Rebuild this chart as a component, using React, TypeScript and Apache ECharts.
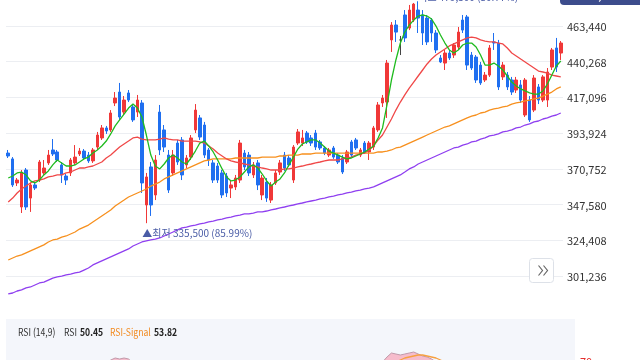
import React, { useEffect, useRef } from 'react';
import * as echarts from 'echarts';

// [open, close, low, high]
const candles: number[][] = [
  [381000, 379100, 377800, 383000], [377200, 360300, 359000, 378400], [361600, 363500, 359600, 364800],
  [346000, 368100, 342100, 370000], [370000, 346000, 344100, 371300], [351800, 360300, 342800, 361600],
  [360300, 358300, 357000, 361600], [363500, 375200, 362200, 376500], [368100, 371300, 366800, 376500],
  [374600, 379700, 373300, 383000], [383000, 380400, 379100, 390100], [381700, 376500, 375200, 383000],
  [373300, 366800, 361600, 375200], [366100, 363500, 360300, 367400], [368100, 376500, 366100, 377800],
  [374600, 378400, 373300, 386200], [380400, 382300, 379100, 384300], [382300, 377800, 376500, 383600],
  [379700, 375900, 374600, 381700], [375900, 383000, 374600, 384300], [384900, 392700, 383000, 394700],
  [390800, 397300, 389500, 399200], [397300, 395300, 393400, 398600], [396000, 407000, 394700, 408900],
  [413500, 416700, 411500, 420600], [420600, 404400, 402500, 426500], [407600, 415400, 405700, 418000],
  [420000, 415400, 414100, 421900], [410900, 402500, 401200, 412800], [407600, 415400, 404400, 418700],
  [413500, 361600, 355100, 415400], [347300, 365500, 335500, 368100], [372000, 347300, 340200, 375200],
  [353800, 376500, 350500, 379700], [407600, 383000, 379700, 412200], [396000, 384900, 381700, 399200],
  [379700, 357000, 355100, 383000], [368100, 379700, 366100, 383000], [387500, 375200, 373300, 389500],
  [389500, 366800, 363500, 391400], [373300, 377800, 371300, 379700], [378400, 390800, 376500, 392700],
  [396000, 408900, 394000, 412800], [403800, 391400, 389500, 405700], [399200, 379700, 377800, 401200],
  [383000, 376500, 372600, 384300], [374600, 363500, 361600, 376500], [372600, 363500, 361600, 374600],
  [368100, 353800, 351800, 370000], [366100, 355100, 352500, 368100], [358300, 360300, 351800, 363500],
  [359000, 364800, 357000, 366800], [363500, 387500, 361600, 389500], [381000, 372000, 370000, 383000],
  [379700, 368100, 366100, 381700], [366800, 373300, 364800, 375200], [374600, 360300, 357000, 376500],
  [353800, 364800, 350500, 366800], [362200, 351800, 349300, 364800], [350500, 360300, 348600, 362200],
  [361600, 368100, 360300, 370000], [368700, 374600, 366800, 376500], [379700, 371300, 369400, 381700],
  [377800, 373300, 372000, 379700], [363500, 384900, 361600, 386200], [387500, 394700, 386200, 396600],
  [387500, 390800, 385600, 396000], [394000, 388200, 386900, 395300], [390800, 387500, 385600, 392700],
  [394000, 384900, 383000, 396000], [388200, 384300, 383000, 389500], [384300, 381000, 379700, 385600],
  [379700, 383000, 378400, 384300], [384300, 378400, 377200, 385600], [379700, 375200, 373900, 381000],
  [377800, 368700, 367400, 379700], [375200, 381700, 373900, 383000], [388200, 379700, 378400, 389500],
  [389500, 384300, 383000, 390800], [379700, 383000, 378400, 384300], [387500, 381700, 380400, 388800],
  [381700, 387500, 376500, 388800], [384900, 397300, 383000, 398600], [396000, 412200, 394700, 414100],
  [413500, 416700, 410900, 418700], [414100, 439400, 403800, 441400], [454400, 464100, 446600, 466000],
  [464100, 459500, 453100, 467300], [454400, 454400, 444600, 457000], [470600, 455700, 453100, 473800],
  [462100, 473800, 460800, 477100], [467300, 477700, 466000, 478400], [473800, 468600, 458900, 479500],
  [470600, 458900, 451100, 473800], [468600, 453100, 451100, 470600], [467300, 458900, 453100, 468600],
  [458900, 447900, 445900, 460800], [442700, 440100, 439400, 444600], [439400, 445900, 434900, 447900],
  [445900, 442700, 441400, 447900], [444600, 451100, 442700, 452400], [449800, 459500, 447900, 462800],
  [467300, 460800, 458900, 470600], [469300, 438100, 434900, 470600], [444600, 436200, 434900, 446600],
  [443300, 428400, 426500, 444600], [438100, 426500, 425200, 440100], [428400, 431600, 427100, 433600],
  [431600, 449200, 430400, 451100], [453100, 452400, 447900, 458900], [452400, 423900, 421900, 454400],
  [430400, 438100, 428400, 440100], [431600, 423900, 421900, 433600], [428400, 420600, 418700, 430400],
  [421900, 428400, 420000, 430400], [425200, 415400, 413500, 428400], [405700, 428400, 404400, 429700],
  [415400, 402500, 401200, 418000], [408900, 429700, 407600, 431600], [423900, 415400, 412800, 425800],
  [415400, 430400, 414100, 431600], [415400, 433600, 410900, 436200], [436800, 447900, 434900, 449200],
  [449200, 436800, 433600, 455700], [445900, 452400, 441400, 453700],
];

const ma5 = [
  364800, 366100, 368100, 368700, 366800, 362900, 361600, 363500, 366800, 369400,
  373300, 376500, 374600, 372600, 372600, 373300, 375200, 377200, 378400, 381000,
  383000, 385600, 388800, 393400, 398600, 402500, 406300, 410200, 412800, 410200,
  404400, 392700, 379700, 372600, 370700, 373900, 377800, 379700, 377800, 375200,
  373900, 377800, 382300, 387500, 388800, 385600, 381700, 376500, 370700, 365500,
  362900, 363500, 365500, 368700, 372000, 373300, 371300, 367400, 362900, 359600,
  362200, 364200, 368100, 373300, 378400, 383600, 386900, 388200, 389500, 389500,
  387500, 384900, 382300, 381000, 379700, 378400, 377200, 377800, 379100, 380400,
  381700, 383600, 385600, 390800, 397300, 412200, 428400, 441400, 452400, 459500,
  464100, 467300, 469900, 470600, 469900, 468000, 463400, 457600, 452400, 447900,
  445900, 447900, 451100, 452400, 452400, 449800, 444600, 438100, 438100, 439400,
  437500, 434900, 431000, 427100, 424500, 422600, 421300, 420000, 419300, 419300,
  421300, 425800, 431600, 437500, 440700,
];

const ma20 = [
  349300, 351800, 355100, 357700, 359600, 361600, 362900, 363500, 364200, 365500,
  366100, 366800, 366800, 368100, 368700, 370000, 371300, 371300, 372000, 372600,
  373900, 375200, 377800, 379700, 382300, 384900, 386900, 388800, 390800, 391400,
  390100, 389500, 389500, 389500, 390100, 390800, 390100, 389500, 389500, 388800,
  388800, 388800, 388800, 388200, 387500, 385600, 383600, 381000, 379100, 377200,
  375900, 375200, 374600, 373900, 373300, 372600, 372000, 371300, 370700, 370000,
  370000, 370000, 370700, 370700, 371300, 372000, 372600, 373300, 373900, 374600,
  375200, 375900, 376500, 376500, 376500, 377200, 377800, 378400, 379700, 380400,
  381000, 383000, 385600, 389500, 392700, 397900, 403100, 408900, 414100, 418700,
  423200, 427100, 431000, 434900, 438800, 442000, 444600, 446600, 448500, 450500,
  451800, 453100, 454400, 455700, 456300, 455700, 454400, 453700, 453100, 453100,
  452400, 451800, 449200, 445900, 444000, 442000, 440100, 438100, 436200, 434200,
  433600, 432900, 431600, 431000, 430400,
];

const ma60 = [
  311600, 312900, 314200, 314900, 316200, 317500, 318800, 320100, 321400, 323300,
  324600, 325200, 326500, 327200, 328500, 329800, 331700, 333000, 334300, 336300,
  338200, 340200, 342100, 344100, 346700, 348600, 350500, 352500, 353800, 355100,
  356400, 357700, 359600, 360900, 362200, 364200, 365500, 366800, 368100, 369400,
  370700, 372000, 373300, 374600, 375900, 376500, 377200, 377200, 377200, 377200,
  377200, 377800, 377800, 377800, 377800, 377800, 377800, 378400, 378400, 378400,
  378400, 379100, 379100, 379700, 379700, 379700, 380400, 380400, 380400, 381000,
  381000, 381000, 381000, 381000, 381000, 381000, 381000, 381000, 381000, 381000,
  381000, 381000, 381000, 381700, 381700, 382300, 383000, 384300, 384900, 386200,
  387500, 388800, 390100, 391400, 392700, 394000, 395300, 396600, 397900, 398600,
  399900, 401200, 402500, 403800, 405000, 405700, 407000, 407600, 408900, 409600,
  410200, 410900, 411500, 412800, 413500, 414100, 414800, 415400, 416100, 416700,
  418000, 419300, 420600, 422600, 423900,
];

const ma120 = [
  289600, 290200, 291500, 292200, 293500, 294100, 295400, 296700, 297300, 298600,
  299900, 300600, 301200, 301900, 302500, 303200, 303800, 305100, 306400, 308400,
  309700, 311000, 312300, 313600, 314900, 316200, 317500, 318800, 320700, 322000,
  323300, 324000, 324600, 325200, 325900, 327200, 328500, 329800, 331100, 332400,
  333000, 333700, 334300, 335000, 335600, 336300, 336900, 337600, 338200, 338900,
  339500, 340200, 340800, 341500, 341500, 342100, 342800, 342800, 343400, 344100,
  344700, 345400, 346000, 346700, 347300, 348000, 348600, 349300, 349900, 350500,
  351200, 351800, 352500, 353100, 353800, 354400, 355100, 355700, 356400, 357000,
  357700, 358300, 359000, 360300, 361600, 362900, 364200, 365500, 366800, 368700,
  370700, 372000, 373900, 375200, 376500, 377800, 379100, 380400, 381700, 383000,
  384300, 384900, 386200, 386900, 388200, 388800, 390100, 390800, 392100, 392700,
  393400, 394700, 395300, 396000, 397300, 397900, 399200, 399900, 401200, 401800,
  403100, 403800, 405000, 405700, 407000,
];

// RSI values only where they reach the visible strip (index, value)
const rsiPoints: [number, number][] = [
  [22, 67], [23, 71], [24, 73], [25, 72], [26, 73], [27, 72], [28, 68],
  [83, 66], [84, 69], [85, 74], [86, 78], [87, 77], [88, 76], [89, 77], [90, 78],
  [91, 79], [92, 77], [93, 75], [94, 74], [95, 72], [96, 69], [97, 65],
];
const rsiSignalPoints: [number, number][] = [
  [86, 66], [87, 69], [88, 71], [89, 73], [90, 74], [91, 75], [92, 76],
  [93, 76], [94, 75], [95, 74], [96, 73], [97, 71], [98, 69], [99, 66],
];

const yMin = 278064;
const yMax = 486612;
const yStep = 23172;

const lowMark = { index: 31, price: 335500, text: '▲최저 335,500 (85.99%)' };
const highMark = { index: 92, price: 479500, text: '최고 479,500 (30.77%)' };
const badgeText = '482,000';
const rsiLegend = { title: 'RSI (14,9)', rsiLabel: 'RSI', rsiValue: '50.45', sigLabel: 'RSI-Signal', sigValue: '53.82' };

const RED = '#f03838';
const BLUE = '#1f6ff0';
const FONT = "'Noto Sans CJK KR', 'Noto Sans', sans-serif";

export default function App() {
  const ref = useRef<HTMLDivElement>(null);
  useEffect(() => {
    if (!ref.current) return;
    const chart = echarts.init(ref.current, undefined, { renderer: 'svg' });
    const OY = 40; // div is shifted up by 40px
    const categories = candles.map((_, i) => String(i));
    const candleData = candles.map((c) =>
      c[0] === c[1]
        ? { value: c, itemStyle: { color: '#444', color0: '#444', borderColor: '#444', borderColor0: '#444' } }
        : c
    );
    const fill = (pts: [number, number][]) => {
      const a: (number | null)[] = categories.map(() => null);
      pts.forEach(([i, v]) => { a[i] = v; });
      return a;
    };
    const fmt = (v: number) => v.toLocaleString('en-US');
    const lineSeries = (data: number[], color: string) => ({
      type: 'line', data, xAxisIndex: 0, yAxisIndex: 0, symbol: 'none', showSymbol: false,
      lineStyle: { color, width: 1.3 }, z: 3, silent: true,
    });
    const legendText = (x: number, text: string, fill: string, bold: boolean) => ({
      type: 'text', x, y: 332 + OY, scaleX: 0.82,
      style: { text, fill, fontSize: 10.5, fontWeight: bold ? 'bold' : 'normal', fontFamily: FONT, verticalAlign: 'middle' },
    });

    chart.setOption({
      animation: false,
      grid: [
        { left: 6, top: 30.3, width: 557, height: 321.4 },
        { left: 6, top: 331 + OY, width: 557, height: 100 },
      ],
      xAxis: [
        { type: 'category', data: categories, gridIndex: 0, boundaryGap: true, show: false },
        { type: 'category', data: categories, gridIndex: 1, boundaryGap: true, show: false },
      ],
      yAxis: [
        {
          type: 'value', gridIndex: 0, position: 'right', min: yMin, max: yMax, interval: yStep,
          axisLine: { show: false }, axisTick: { show: false },
          splitLine: { show: true, showMinLine: false, showMaxLine: false, lineStyle: { color: '#eceef2', width: 1 } },
          axisLabel: {
            margin: 4, color: '#333', fontSize: 11, fontFamily: FONT,
            formatter: (v: number) => (v <= yMin || v >= yMax ? '' : fmt(v)),
          },
        },
        {
          type: 'value', gridIndex: 1, position: 'right', min: 0, max: 100, interval: 10,
          axisLine: { show: false }, axisTick: { show: false }, splitLine: { show: false },
          axisLabel: {
            margin: 17, color: '#e5302f', fontSize: 11, fontFamily: FONT,
            formatter: (v: number) => (v === 70 ? '70' : ''),
          },
        },
      ],
      series: [
        {
          type: 'candlestick', data: candleData, xAxisIndex: 0, yAxisIndex: 0, barWidth: 3,
          itemStyle: { color: RED, color0: BLUE, borderColor: RED, borderColor0: BLUE, borderWidth: 1 },
          markPoint: {
            symbol: 'circle', symbolSize: 1, itemStyle: { color: 'rgba(0,0,0,0)' }, silent: true,
            data: [
              {
                coord: [String(lowMark.index), lowMark.price],
                label: {
                  show: true, position: 'bottom', distance: 4, align: 'left', offset: [-4, 0],
                  formatter: lowMark.text, color: '#4a5ca6', fontSize: 10, fontFamily: FONT,
                },
              },
              {
                coord: [String(highMark.index), highMark.price],
                label: {
                  show: true, position: 'top', distance: 0, align: 'left', offset: [0, 1],
                  formatter: highMark.text, color: '#4a5ca6', fontSize: 10, fontFamily: FONT,
                },
              },
            ],
          },
        },
        lineSeries(ma120, '#8f3ff0'),
        lineSeries(ma60, '#f7901e'),
        lineSeries(ma20, '#f04848'),
        lineSeries(ma5, '#1fbb1f'),
        {
          type: 'line', data: fill(rsiPoints), xAxisIndex: 1, yAxisIndex: 1, symbol: 'none',
          connectNulls: false, lineStyle: { color: '#c09aaa', width: 1 },
          areaStyle: { color: '#f6b6c6', opacity: 0.9 }, silent: true,
        },
        {
          type: 'line', data: fill(rsiSignalPoints), xAxisIndex: 1, yAxisIndex: 1, symbol: 'none',
          connectNulls: false, lineStyle: { color: '#f7a040', width: 1.3 }, silent: true,
        },
      ],
      graphic: [
        { type: 'rect', z: -10, shape: { x: 6, y: 319 + OY, width: 569, height: 130 }, style: { fill: '#f4f6fb' } },
        legendText(18, rsiLegend.title, '#333', false),
        legendText(64, rsiLegend.rsiLabel, '#333', false),
        legendText(80, rsiLegend.rsiValue, '#222', true),
        legendText(110, rsiLegend.sigLabel, '#f28a1e', false),
        legendText(154, rsiLegend.sigValue, '#222', true),
        // scroll button
        { type: 'rect', z: 50, shape: { x: 529.5, y: 258.5 + OY, width: 24, height: 24, r: 3 }, style: { fill: '#fff', stroke: '#dde1e8', lineWidth: 1 } },
        { type: 'polyline', z: 51, shape: { points: [[538.5, 265.5 + OY], [542.5, 270.5 + OY], [538.5, 275.5 + OY]] }, style: { stroke: '#666', lineWidth: 1.2, fill: 'none' } },
        { type: 'polyline', z: 51, shape: { points: [[543.5, 265.5 + OY], [547.5, 270.5 + OY], [543.5, 275.5 + OY]] }, style: { stroke: '#666', lineWidth: 1.2, fill: 'none' } },
        // top-right price badge (mostly above the visible area)
        { type: 'rect', z: 50, shape: { x: 560, y: -15 + OY, width: 90, height: 20, r: 4 }, style: { fill: '#3c4c8c' } },
        { type: 'text', z: 51, x: 600, y: -6 + OY, style: { text: badgeText, fill: '#fff', fontSize: 11, fontWeight: 'bold', fontFamily: FONT, align: 'center', verticalAlign: 'middle' } },
      ],
    });
    return () => chart.dispose();
  }, []);
  return <div ref={ref} style={{ position: 'fixed', left: 0, top: -40, width: 640, height: 480 }} />;
}
